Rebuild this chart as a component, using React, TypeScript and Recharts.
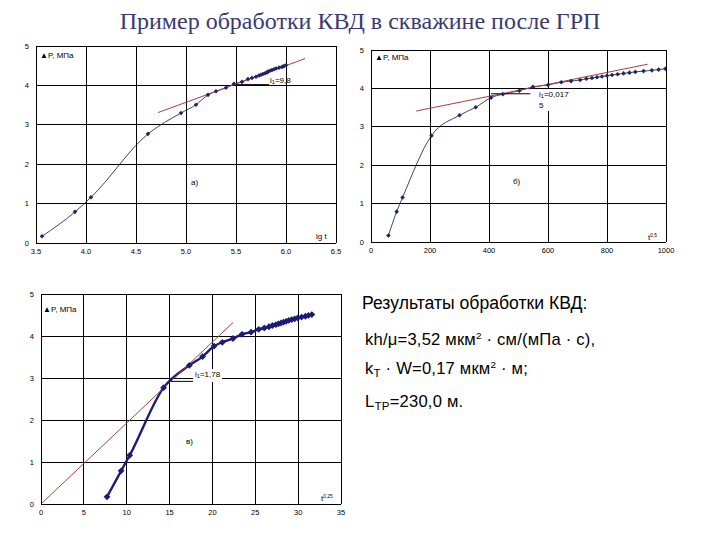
import React from "react";
import { LineChart, Line, XAxis, YAxis, CartesianGrid, ReferenceLine } from "recharts";

// ΔP, МПа – одни и те же замеры для всех трёх графиков
const dP = [0.17, 0.79, 1.16, 2.77, 3.3, 3.51, 3.76, 3.85, 3.94, 4.04, 4.09, 4.16, 4.19, 4.22, 4.25, 4.27, 4.29, 4.31, 4.33, 4.35, 4.37, 4.39, 4.41, 4.43, 4.45, 4.47, 4.49, 4.51];
const lgT = [3.56, 3.89, 4.05, 4.62, 4.95, 5.1, 5.22, 5.3, 5.4, 5.48, 5.56, 5.62, 5.66, 5.7, 5.73, 5.75, 5.77, 5.79, 5.81, 5.82, 5.84, 5.86, 5.88, 5.9, 5.93, 5.96, 5.98, 6.0];
const tHalf = [59, 87, 107, 205, 300, 355, 407, 447, 503, 549, 600, 645, 678, 709, 730, 749, 766, 783, 800, 817, 836, 856, 876, 896, 924, 952, 975, 998];
const tQuarter = [7.7, 9.35, 10.35, 14.3, 17.3, 18.85, 20.2, 21.15, 22.4, 23.45, 24.5, 25.4, 26.05, 26.6, 27.0, 27.4, 27.7, 28.0, 28.3, 28.6, 28.9, 29.25, 29.6, 29.95, 30.4, 30.85, 31.2, 31.6];

// касательные (x, y) и горизонтальный отрезок угла
const tanA = { x: [4.72, 6.19], y: [3.31, 4.68] };
const tanB = { x: [153, 938], y: [3.41, 4.63] };
const tanC = { x: [0, 22.4], y: [0, 4.32] };
const levelA = { x: [5.5, 5.83], y: 4.02 };
const levelB = { x: [407, 540], y: 3.86 };
const levelC = { x: [15.1, 19.2], y: 2.92 };

const yTicks = [0, 1, 2, 3, 4, 5];
const ticksA = [3.5, 4.0, 4.5, 5.0, 5.5, 6.0, 6.5];
const ticksB = [0, 200, 400, 600, 800, 1000];
const ticksC = [0, 5, 10, 15, 20, 25, 30, 35];

const FONT = "'Liberation Sans', Arial, sans-serif";
const tickStyle = { fontSize: 7.5, fill: "#000", fontFamily: FONT };

const Diamond = (size: number, color: string) => (props: any) => {
  const { cx, cy, index } = props;
  if (cx == null || cy == null) return <g key={index} />;
  return (
    <path
      key={index}
      d={`M${cx},${cy - size}L${cx + size},${cy}L${cx},${cy + size}L${cx - size},${cy}Z`}
      fill={color}
    />
  );
};

interface PanelProps {
  left: number;
  top: number;
  plotW: number;
  plotH: number;
  xs: number[];
  domain: [number, number];
  ticks: number[];
  fmt: (v: number) => string;
  tan: { x: number[]; y: number[] };
  level: { x: number[]; y: number };
  lineWidth: number;
  lineColor: string;
  dotSize: number;
  dotColor: string;
}

function Panel(p: PanelProps) {
  const yW = 18;
  const mTop = 6;
  const mRight = 12;
  const xH = 20;
  const data = p.xs.map((x, i) => ({ x, p: dP[i] }));
  const tanData = p.tan.x.map((x, i) => ({ x, p: p.tan.y[i] }));
  return (
    <div style={{ position: "absolute", left: p.left - yW, top: p.top - mTop }}>
      <LineChart
        width={yW + p.plotW + mRight}
        height={mTop + p.plotH + xH}
        margin={{ top: mTop, right: mRight, left: 0, bottom: 0 }}
      >
        <CartesianGrid stroke="#000" strokeWidth={1} shapeRendering="crispEdges" />
        <XAxis
          type="number"
          dataKey="x"
          domain={p.domain}
          ticks={p.ticks}
          tickFormatter={p.fmt}
          allowDataOverflow
          height={xH}
          tick={tickStyle}
          tickLine={false}
          tickSize={0}
          tickMargin={6}
          axisLine={{ stroke: "#000", shapeRendering: "crispEdges" }}
        />
        <YAxis
          type="number"
          domain={[0, 5]}
          ticks={yTicks}
          width={yW}
          tick={tickStyle}
          tickLine={false}
          tickSize={0}
          tickMargin={7}
          axisLine={{ stroke: "#000", shapeRendering: "crispEdges" }}
        />
        <Line
          data={data}
          dataKey="p"
          type="monotone"
          stroke={p.lineColor}
          strokeWidth={p.lineWidth}
          dot={Diamond(p.dotSize, p.dotColor)}
          isAnimationActive={false}
        />
        <Line
          data={tanData}
          dataKey="p"
          type="linear"
          stroke="#a8403c"
          strokeWidth={1}
          dot={false}
          isAnimationActive={false}
        />
        <ReferenceLine
          segment={[
            { x: p.level.x[0], y: p.level.y },
            { x: p.level.x[1], y: p.level.y },
          ]}
          stroke="#000"
          strokeWidth={1}
        />
      </LineChart>
    </div>
  );
}

const small: React.CSSProperties = { position: "absolute", fontFamily: FONT, fontSize: 8, color: "#000", lineHeight: "9px", whiteSpace: "nowrap" };

const Lbl = ({ x, y, children, bg }: { x: number; y: number; children: React.ReactNode; bg?: boolean }) => (
  <div style={{ ...small, left: x, top: y, background: bg ? "#fff" : "transparent", padding: bg ? "1px 2px" : 0 }}>{children}</div>
);

const sub: React.CSSProperties = { fontSize: "0.7em", verticalAlign: "-0.25em" };
const sup: React.CSSProperties = { fontSize: "0.6em", verticalAlign: "0.6em" };

const result: React.CSSProperties = { position: "absolute", left: 365, fontFamily: FONT, fontSize: 16.6, color: "#000", whiteSpace: "nowrap", letterSpacing: 0.2 };

export default function App() {
  return (
    <div style={{ position: "absolute", left: 0, top: 0, width: 720, height: 540, background: "#fff", overflow: "hidden" }}>
      <div
        style={{
          position: "absolute",
          left: 0,
          width: 720,
          top: 8,
          textAlign: "center",
          fontFamily: "'Liberation Serif', 'DejaVu Serif', serif",
          fontSize: 24,
          color: "#3a3a70",
        }}
      >
        Пример обработки КВД в скважине после ГРП
      </div>

      <Panel
        left={36} top={46} plotW={300} plotH={197}
        xs={lgT} domain={[3.5, 6.5]} ticks={ticksA} fmt={(v) => v.toFixed(1)}
        tan={tanA} level={levelA}
        lineWidth={0.8} lineColor="#14143c" dotSize={2.3} dotColor="#222266"
      />
      <Panel
        left={371} top={50} plotW={295} plotH={192}
        xs={tHalf} domain={[0, 1000]} ticks={ticksB} fmt={(v) => String(v)}
        tan={tanB} level={levelB}
        lineWidth={0.8} lineColor="#14143c" dotSize={2.3} dotColor="#222266"
      />
      <Panel
        left={41} top={294} plotW={300} plotH={210}
        xs={tQuarter} domain={[0, 35]} ticks={ticksC} fmt={(v) => String(v)}
        tan={tanC} level={levelC}
        lineWidth={2.4} lineColor="#1c1c78" dotSize={3.4} dotColor="#1c1c78"
      />

      {/* подписи графика а */}
      <Lbl x={40} y={51}>▲P, МПа</Lbl>
      <Lbl x={316} y={232}>lg t</Lbl>
      <Lbl x={191} y={178}>а)</Lbl>
      <Lbl x={270} y={76}>i<span style={sub}>1</span>=9,8</Lbl>

      {/* подписи графика б */}
      <Lbl x={375} y={53}>▲P, МПа</Lbl>
      <Lbl x={648} y={231}>t<span style={sup}>0,5</span></Lbl>
      <Lbl x={513} y={177}>б)</Lbl>
      <Lbl x={537} y={89} bg>
        i<span style={sub}>1</span>=0,017
        <br />5
      </Lbl>

      {/* подписи графика в */}
      <Lbl x={43} y={305}>▲P, МПа</Lbl>
      <Lbl x={321} y={492}>t<span style={sup}>0,25</span></Lbl>
      <Lbl x={186} y={437}>в)</Lbl>
      <Lbl x={193} y={369} bg>i<span style={sub}>1</span>=1,78</Lbl>

      {/* результаты */}
      <div style={{ position: "absolute", left: 362, top: 292, fontFamily: FONT, fontSize: 17.6, color: "#000", lineHeight: "22px", whiteSpace: "nowrap" }}>
        Результаты обработки КВД:
      </div>
      <div style={{ ...result, top: 330 }}>
        kh/μ=3,52 мкм<span style={sup}>2</span> · см/(мПа · с),
      </div>
      <div style={{ ...result, top: 359 }}>
        k<span style={sub}>T</span> · W=0,17 мкм<span style={sup}>2</span> · м;
      </div>
      <div style={{ ...result, top: 392 }}>
        L<span style={sub}>TP</span>=230,0 м.
      </div>
    </div>
  );
}
